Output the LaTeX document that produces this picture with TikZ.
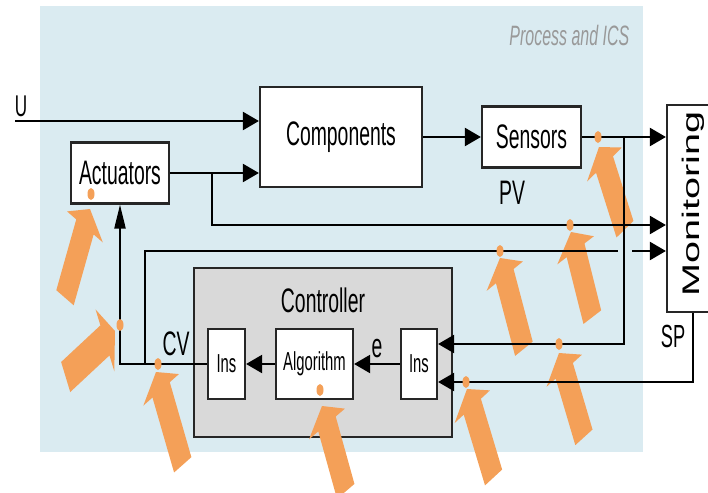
\documentclass[tikz,border=0pt]{standalone}
\usepackage{fontspec}
\setmainfont{Liberation Sans}[FakeStretch=0.57]
\newfontfamily\monfont{Liberation Sans}[FakeStretch=1.65]
\usetikzlibrary{arrows.meta, positioning}

\definecolor{bgblue}{HTML}{DAEBF1}
\definecolor{ctrlgray}{HTML}{D9D9D9}
\definecolor{hitorange}{HTML}{F4A058}

% fat orange arrow: tip, angle, length
\newcommand{\hit}[3]{%
  \fill[hitorange, shift={(#1)}, xscale=0.57, rotate=#2]
    (0,0) -- (-20,35) -- (-20,17) -- (-#3,17) -- (-#3,-17) -- (-20,-17) -- (-20,-35) -- cycle;}
\newcommand{\spot}[1]{\fill[hitorange] (#1) ellipse [x radius=1.75pt, y radius=3pt];}

\begin{document}
\begin{tikzpicture}[
        x = 0.5pt, y = -0.5pt, node distance = 40pt, on grid,
        >= {Triangle[length = 8pt, width = 9pt]},
        line width = 1.1pt,
        every node/.style = {font = \fontsize{17}{20}\selectfont},
        block/.style = {draw = black!85, fill = white, inner sep = 0pt},
        small/.style = {font = \fontsize{13}{15}\selectfont},
        upward/.style = {-{Triangle[length = 12pt, width = 5.5pt]}}
    ]
      \useasboundingbox (0,0) rectangle (708,493);
      \clip (0,0) rectangle (708,493);
      \fill[bgblue] (40,6) rectangle (643,452);
      \node[anchor = base east, text = black!40, font = \itshape\fontsize{14}{16}\selectfont] (title) at (637,45) {Process and ICS};

      \node[block, fill = ctrlgray, minimum width = 129pt, minimum height = 84.5pt] (ctrl) at (323,352.5) {};
      \node (ctrltxt) at (323,300) {Controller};

      % attacks
      \hit{90,209}{63.7}{99}
      \hit{115,331}{28}{98}
      \hit{156,372}{116.8}{104}
      \hit{322,406}{116}{95}
      \hit{467,389}{117.8}{100}
      \hit{559,353}{117.4}{95}
      \hit{500,258}{114.8}{100}
      \hit{571,232}{113.7}{93}
      \hit{599,147}{119}{94}

      \node[block, minimum width = 81pt, minimum height = 50pt] (comp) at (341,137) {Components};
      \node[block, minimum width = 49.5pt, minimum height = 30.5pt, right = 95.25pt of comp] (sens) {Sensors};
      \node[block, minimum width = 49pt, minimum height = 30.5pt] (act) at (120,173) {Actuators};
      \node[block, minimum width = 24pt, minimum height = 103.5pt] (mon) at (691,208.5) {};
      \node[rotate = 90, font = \monfont\fontsize{12}{14}\selectfont] (montxt) at (693,204) {Monitoring};

      \node[block, small, minimum width = 38.5pt, minimum height = 35pt] (alg) at (314.5,364) {Algorithm};
      \node[block, small, minimum width = 18.5pt, minimum height = 35pt, left = 44pt of alg] (insl) {Ins};
      \node[block, small, minimum width = 18pt, minimum height = 35pt, right = 52.25pt of alg] (insr) {Ins};

      \node[anchor = base, font = \fontsize{15}{17}\selectfont] (ulab) at (21,116) {U};
      \node[anchor = base] (pv) at (512,204) {PV};
      \node[anchor = base] (cv) at (176,355) {CV};
      \node[anchor = base] (elab) at (377,357) {e};
      \node[anchor = base, font = \fontsize{16}{18}\selectfont] (splab) at (673,347) {SP};

      \coordinate (u) at (15,121);
      \coordinate (j1) at (212,173);
      \coordinate (j2) at (624,137);
      \coordinate (j3) at (145,364);
      \coordinate (gapl) at (618,251);
      \coordinate (gapr) at (632,251);
      \coordinate (spout) at (693,0 |- mon.south);

      \draw[->] (u) -- (u -| comp.west);
      \draw[->] (act.east) -- (act.east -| comp.west);
      \draw[->] (j1) |- (mon.west |- 0,225);
      \draw[->] (comp) -- (sens);
      \draw[->] (sens) -- (sens -| mon.west);
      \draw[->] (j2) |- (insr.east |- 0,344);
      \draw[->] (spout) |- (insr.east |- 0,382);
      \draw[upward] (insl) -| (act);
      \draw (j3) |- (gapl);
      \draw[->] (gapr) -- (mon.west |- gapr);
      \draw[->] (alg) -- (insl);
      \draw[->] (insr) -- (alg);

      \spot{91,194} \spot{120,325} \spot{158,364}
      \spot{320,390} \spot{466,382} \spot{559,344}
      \spot{500,251} \spot{570,225} \spot{598,137}
\end{tikzpicture}
\end{document}
